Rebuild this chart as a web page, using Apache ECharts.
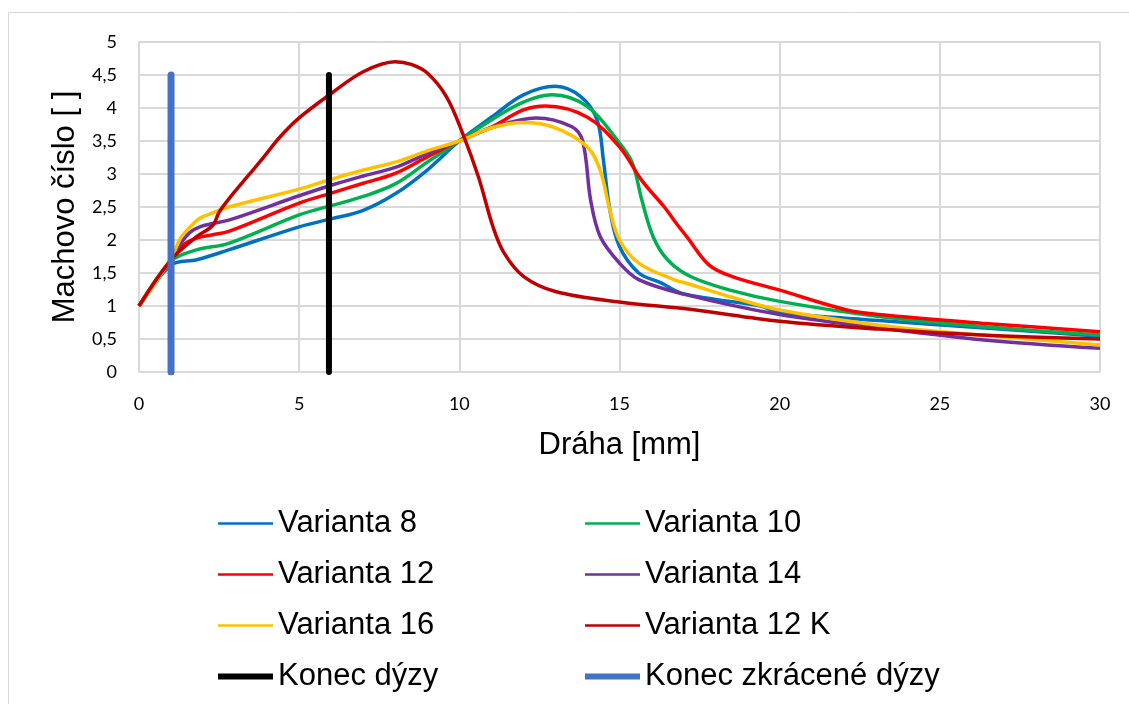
<!DOCTYPE html>
<html>
<head>
<meta charset="utf-8">
<script src="https://cdn.jsdelivr.net/npm/echarts@6/dist/echarts.min.js"></script>
<style>
  html, body { margin: 0; padding: 0; background: #fff; }
  #main { width: 1129px; height: 704px; }
</style>
</head>
<body>
<div id="main"></div>
<script>
// dráha [mm] a Machovo číslo pro jednotlivé varianty
const v8 = [[0,1.0],[1,1.62],[1.8,1.70],[2.8,1.85],[5,2.2],[6,2.32],[7,2.45],[8,2.7],[9,3.06],[10,3.5],[11,3.86],[12,4.2],[13,4.33],[13.8,4.17],[14.3,3.82],[14.5,3.2],[14.7,2.45],[15,1.9],[15.6,1.5],[16.3,1.35],[16.9,1.2],[18,1.1],[19.4,1.0],[20,0.9],[23.1,0.78],[26.3,0.67],[30,0.54]]
const v10 = [[0,1.0],[1,1.68],[1.8,1.85],[2.8,1.95],[5,2.38],[6,2.52],[7,2.66],[8,2.85],[9,3.18],[10,3.5],[11,3.82],[12,4.09],[12.9,4.2],[14,4.02],[15,3.47],[15.4,3.17],[15.7,2.6],[16.05,2.05],[16.5,1.7],[17.2,1.45],[18.45,1.24],[20,1.07],[23.1,0.84],[26.3,0.69],[30,0.56]]
const v12 = [[0,1.0],[1,1.7],[1.3,1.9],[1.8,2.03],[2.3,2.08],[2.8,2.13],[5,2.56],[6,2.71],[7,2.86],[8,3.01],[9,3.26],[10,3.5],[11,3.71],[12,3.97],[12.7,4.03],[14,3.86],[15,3.41],[15.7,2.9],[16.4,2.5],[16.7,2.3],[17.1,2.05],[17.8,1.62],[18.5,1.45],[20,1.24],[22.1,0.94],[23.1,0.87],[26.3,0.74],[30,0.61]]
const v14 = [[0,1.0],[1,1.7],[1.3,1.95],[1.6,2.12],[1.9,2.2],[2.3,2.25],[2.8,2.3],[5,2.67],[6,2.83],[7,2.97],[8,3.1],[9,3.31],[10,3.5],[11,3.7],[12.4,3.85],[13.5,3.72],[13.85,3.5],[14.1,2.6],[14.4,2.05],[15,1.65],[15.6,1.4],[17,1.18],[20,0.87],[23.1,0.67],[26.3,0.49],[30,0.36]]
const v16 = [[0,1.0],[1,1.72],[1.3,2.03],[1.6,2.2],[1.9,2.33],[2.3,2.41],[2.8,2.5],[5,2.77],[6,2.92],[7,3.06],[8,3.18],[9,3.35],[10,3.5],[11,3.7],[12,3.78],[13,3.7],[14,3.41],[14.4,3.05],[14.7,2.45],[15,2.0],[15.6,1.65],[16.7,1.4],[17.2,1.33],[18.45,1.14],[20,0.94],[23.1,0.71],[26.3,0.56],[30,0.41]]
const v12k = [[0,1.0],[1,1.7],[1.8,2.05],[2.3,2.22],[2.5,2.42],[2.8,2.62],[3.4,2.97],[3.9,3.26],[4.4,3.56],[5,3.85],[6,4.22],[7,4.55],[8,4.7],[8.5,4.66],[9,4.53],[9.6,4.17],[10.1,3.62],[10.6,2.95],[11.05,2.2],[11.4,1.8],[12,1.45],[13,1.22],[15,1.06],[17.2,0.95],[20,0.77],[23.1,0.65],[26.3,0.56],[30,0.5]]
const konecDyzy = [[5.93,0],[5.93,4.5]]
const konecZkracene = [[1,0],[1,4.5]]

const xTicks = [0, 5, 10, 15, 20, 25, 30]
const yTicks = ['0', '0,5', '1', '1,5', '2', '2,5', '3', '3,5', '4', '4,5', '5']

const myChart = echarts.init(document.getElementById('main'))

function curve(name, data, color) {
  return {
    name: name, type: 'line', data: data, smooth: 0.35, symbol: 'none',
    lineStyle: { color: color, width: 3.5 }, itemStyle: { color: color }
  }
}

// ikony legendy: tenká čára pro varianty, silná pro konce dýz
const thinIcon = 'path://M0,0L0,0M0,2.3h55v2.4h-55zM55,7L55,7'
const thickIcon = 'path://M0,0.5h55v6h-55z'
function item(name, icon) { return { name: name, icon: icon } }

const legendText = { fontFamily: '"Liberation Sans", Arial', fontSize: 31, color: '#000', lineHeight: 31 }

const option = {
  animation: false,
  backgroundColor: '#fff',
  graphic: [{
    type: 'polyline',
    shape: { points: [[8.5, 704], [8.5, 12.5], [1129, 12.5]] },
    style: { stroke: '#d9d9d9', lineWidth: 1, fill: null }
  }],
  grid: { left: 139, right: 29, top: 42, bottom: 332, show: true, borderColor: '#d9d9d9', borderWidth: 1 },
  legend: [{
    orient: 'vertical', left: 213, top: 503, itemWidth: 55, itemHeight: 7, itemGap: 20,
    textStyle: legendText,
    data: [item('Varianta 8', thinIcon), item('Varianta 12', thinIcon), item('Varianta 16', thinIcon), item('Konec dýzy', thickIcon)]
  }, {
    orient: 'vertical', left: 580, top: 503, itemWidth: 55, itemHeight: 7, itemGap: 20,
    textStyle: legendText,
    data: [item('Varianta 10', thinIcon), item('Varianta 14', thinIcon), item('Varianta 12 K', thinIcon), item('Konec zkrácené dýzy', thickIcon)]
  }],
  xAxis: {
    type: 'value', min: 0, max: 30, interval: 5,
    name: 'Dráha [mm]', nameLocation: 'middle', nameGap: 58,
    nameTextStyle: { fontFamily: '"Liberation Sans", Arial', fontSize: 31, color: '#000' },
    axisLine: { show: true, lineStyle: { color: '#d9d9d9' } },
    axisTick: { show: false },
    axisLabel: { fontFamily: 'Lato', fontSize: 18, color: '#000', margin: 23,
      formatter: v => xTicks.indexOf(v) >= 0 ? String(v) : '' },
    splitLine: { show: true, lineStyle: { color: '#d9d9d9', width: 2 } }
  },
  yAxis: {
    type: 'value', min: 0, max: 5, interval: 0.5,
    name: 'Machovo číslo [ ]', nameLocation: 'middle', nameGap: 58, nameRotate: 90,
    nameTextStyle: { fontFamily: '"Liberation Sans", Arial', fontSize: 31, color: '#000' },
    axisLine: { show: true, lineStyle: { color: '#d9d9d9' } },
    axisTick: { show: false },
    axisLabel: { fontFamily: 'Lato', fontSize: 18, color: '#000', margin: 22,
      formatter: v => yTicks[Math.round(v * 2)] },
    splitLine: { show: true, lineStyle: { color: '#d9d9d9', width: 2 } }
  },
  series: [
    curve('Varianta 8', v8, '#0070C0'),
    curve('Varianta 10', v10, '#00B050'),
    curve('Varianta 12', v12, '#FF0000'),
    curve('Varianta 14', v14, '#7030A0'),
    curve('Varianta 16', v16, '#FFC000'),
    curve('Varianta 12 K', v12k, '#C00000'),
    { name: 'Konec dýzy', type: 'line', data: konecDyzy, symbol: 'none',
      lineStyle: { color: '#000', width: 6, cap: 'round' }, itemStyle: { color: '#000' } },
    { name: 'Konec zkrácené dýzy', type: 'line', data: konecZkracene, symbol: 'none',
      lineStyle: { color: '#4472C4', width: 7, cap: 'round' }, itemStyle: { color: '#4472C4' } }
  ]
}
myChart.setOption(option)
</script>
</body>
</html>
